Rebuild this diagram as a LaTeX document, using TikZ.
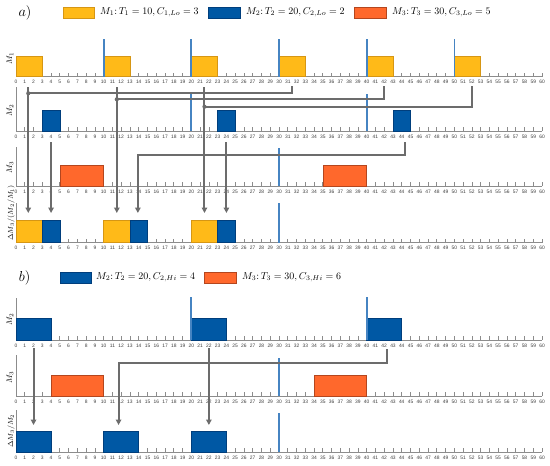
\documentclass[tikz,border=0pt]{standalone}
\usepackage{fontspec}
\newfontfamily\ticksf{Liberation Sans}
\usetikzlibrary{arrows.meta}
\definecolor{cyel}{RGB}{255,186,24}
\definecolor{cyelb}{RGB}{214,150,20}
\definecolor{cblu}{RGB}{0,88,164}
\definecolor{cblub}{RGB}{0,62,124}
\definecolor{corg}{RGB}{255,104,44}
\definecolor{corgb}{RGB}{180,70,30}
\definecolor{cmark}{RGB}{70,132,194}
\definecolor{caxis}{RGB}{140,140,140}
\definecolor{carr}{RGB}{108,108,108}
\newcommand\tline[3]{%
  \draw[axisline] (16,#2) -- (16,#3) -- ({tx(60)},#3);
  \foreach \i in {0,...,60}{%
    \draw[axisline] ({tx(\i)},#3) -- ({tx(\i)},{#3-3.8});
    \node[tick] (#1-\i) at ({tx(\i)},{#3+5.3}) {\i};
  }%
}
\newcommand\jobbox[5]{\draw[#1] ({tx(#2)},#4) rectangle ({tx(#3)},#5);}
\newcommand\permark[3]{\draw[marker] ({tx(#1)},#2) -- ({tx(#1)},#3);}
\begin{document}
\begin{tikzpicture}[x=1pt,y=-1pt,
  declare function={tx(\t)=16+8.767*\t;},
  axisline/.style={draw=caxis, line width=0.7pt},
  tick/.style={font=\ticksf\fontsize{4.9}{5}\selectfont, text=black!75, inner sep=0pt, text height=3.5pt, text depth=0pt},
  yjob/.style={fill=cyel, draw=cyelb, line width=0.5pt},
  bjob/.style={fill=cblu, draw=cblub, line width=0.5pt},
  ojob/.style={fill=corg, draw=corgb, line width=0.5pt},
  marker/.style={draw=cmark, line width=1.7pt},
  flow/.style={draw=carr, line width=2pt, -{Triangle[length=5.5pt,width=5.5pt]}},
  link/.style={draw=carr, line width=2pt},
  junction/.style={circle, fill=carr, inner sep=0pt, minimum size=4.2pt},
  rowlab/.style={rotate=90, font=\fontsize{8}{9}\selectfont, inner sep=0pt},
  longlab/.style={rotate=90, font=\fontsize{7.3}{8}\selectfont, inner sep=0pt},
  legend/.style={font=\fontsize{10.4}{12}\selectfont, anchor=west, inner sep=0pt},
  partlab/.style={font=\fontsize{14}{16}\selectfont, inner sep=0pt},
  swatch/.style={line width=0.5pt}]
\useasboundingbox (0,0) rectangle (550,466);
\fill[white] (0,0) rectangle (550,466);

% ---------- legend a ----------
\node[partlab] (pa) at (25,12.5) {$a)$};
\draw[swatch, fill=cyel, draw=cyelb] (63,7) rectangle (94,18);
\node[legend] (la1) at (100,12.5) {$M_1\colon T_1 = 10, C_{1,Lo} = 3$};
\draw[swatch, fill=cblu, draw=cblub] (208,7) rectangle (240,18);
\node[legend] (la2) at (246,12.5) {$M_2\colon T_2 = 20, C_{2,Lo} = 2$};
\draw[swatch, fill=corg, draw=corgb] (354,7) rectangle (386,18);
\node[legend] (la3) at (392,12.5) {$M_3\colon T_3 = 30, C_{3,Lo} = 5$};

% ---------- part a rows ----------
\tline{ra1}{56}{76.7}
\foreach \s in {0,10,20,30,40,50} {\jobbox{yjob}{\s}{\s+3}{56}{76.7}}
\foreach \s in {10,20,30,40,50} {\permark{\s}{39}{76.7}}
\node[rowlab] (lra1) at (10,58) {$M_1$};

\tline{ra2}{87}{131}
\foreach \s in {3,23,43} {\jobbox{bjob}{\s}{\s+2}{110.7}{131}}
\foreach \s in {20,40} {\permark{\s}{94}{131}}
\node[rowlab] (lra2) at (10,110) {$M_2$};

\tline{ra3}{147}{186}
\foreach \s in {5,35} {\jobbox{ojob}{\s}{\s+5}{165}{186}}
\permark{30}{148}{186}
\node[rowlab] (lra3) at (10,167) {$M_3$};

\tline{ra4}{203}{242.5}
\foreach \s in {0,10,20} {\jobbox{yjob}{\s}{\s+3}{220}{242.5}\jobbox{bjob}{\s+3}{\s+5}{220}{242.5}}
\permark{30}{203}{242.5}
\node[longlab] (lra4) at (11,213) {$\Delta M_3/(M_2/M_1)$};

% ---------- part a connectors ----------
\foreach \x/\n in {1.4/1,11.5/2,21.5/3} {
  \coordinate (as\n) at ({tx(\x)},87);
  \coordinate (ae\n) at ({tx(\x)},213);
  \draw[flow] (as\n) -- (ae\n);
}
\foreach \x/\y/\n in {31.5/93.3/1,42/99.3/2,52/106.7/3} {
  \coordinate (bs\n) at ({tx(\x)},86);
  \coordinate (bj\n) at (as\n |- 0,\y);
  \draw[link] (bs\n) |- (bj\n);
  \node[junction] (dj\n) at (bj\n) {};
}
\foreach \x/\n in {4/4,24/5} {
  \coordinate (as\n) at ({tx(\x)},142);
  \coordinate (ae\n) at ({tx(\x)},213);
  \draw[flow] (as\n) -- (ae\n);
}
\coordinate (cs6) at ({tx(44.4)},142);
\coordinate (cc6) at ({tx(44.4)},155);
\coordinate (ce6) at ({tx(13.9)},213);
\draw[flow] (cs6) -- (cc6) -| (ce6);

% ---------- legend b ----------
\node[partlab] (pb) at (24.5,277.5) {$b)$};
\draw[swatch, fill=cblu, draw=cblub] (60,272) rectangle (91,283);
\node[legend] (lb1) at (96,277.5) {$M_2\colon T_2 = 20, C_{2,Hi} = 4$};
\draw[swatch, fill=corg, draw=corgb] (204,272) rectangle (236,283);
\node[legend] (lb2) at (242,277.5) {$M_3\colon T_3 = 30, C_{3,Hi} = 6$};

% ---------- part b rows ----------
\tline{rb1}{298}{340}
\foreach \s in {0,20,40} {\jobbox{bjob}{\s}{\s+4}{318}{340}}
\foreach \s in {20,40} {\permark{\s}{297}{340}}
\node[rowlab] (lrb1) at (10,319) {$M_2$};

\tline{rb2}{355}{396}
\foreach \s in {4,34} {\jobbox{ojob}{\s}{\s+6}{375}{396}}
\permark{30}{358}{396}
\node[rowlab] (lrb2) at (10,377) {$M_3$};

\tline{rb3}{410}{452}
\foreach \s in {0,10,20} {\jobbox{bjob}{\s}{\s+4}{431}{452}}
\permark{30}{413}{452}
\node[longlab] (lrb3) at (11,431) {$\Delta M_3/M_2$};

% ---------- part b connectors ----------
\foreach \x/\n in {2/1,22/2} {
  \coordinate (ds\n) at ({tx(\x)},348);
  \coordinate (de\n) at ({tx(\x)},425);
  \draw[flow] (ds\n) -- (de\n);
}
\coordinate (ds3) at ({tx(42.3)},349);
\coordinate (dc3) at ({tx(42.3)},363);
\coordinate (de3) at ({tx(11.7)},425);
\draw[flow] (ds3) -- (dc3) -| (de3);
\end{tikzpicture}
\end{document}
